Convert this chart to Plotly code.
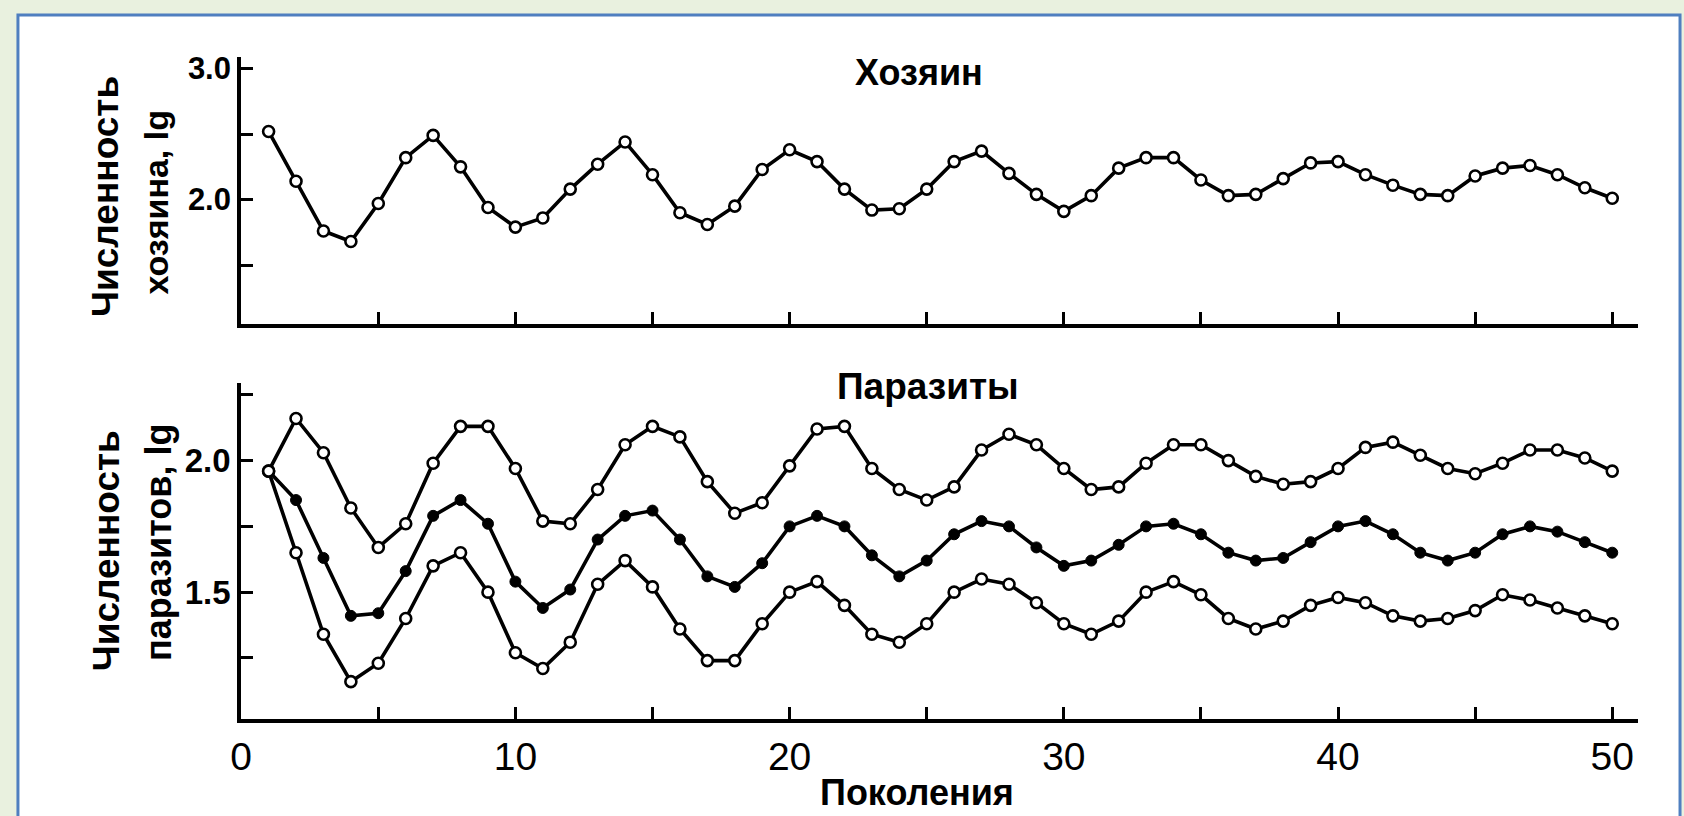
import plotly.graph_objects as go

W, H = 1684, 816

generations = list(range(1, 51))

host = [2.52, 2.14, 1.76, 1.68, 1.97, 2.32, 2.49, 2.25, 1.94, 1.79,
        1.86, 2.08, 2.27, 2.44, 2.19, 1.90, 1.81, 1.95, 2.23, 2.38,
        2.29, 2.08, 1.92, 1.93, 2.08, 2.29, 2.37, 2.20, 2.04, 1.91,
        2.03, 2.24, 2.32, 2.32, 2.15, 2.03, 2.04, 2.16, 2.28, 2.29,
        2.19, 2.11, 2.04, 2.03, 2.18, 2.24, 2.26, 2.19, 2.09, 2.01]

parasite_upper = [1.96, 2.16, 2.03, 1.82, 1.67, 1.76, 1.99, 2.13, 2.13, 1.97,
                  1.77, 1.76, 1.89, 2.06, 2.13, 2.09, 1.92, 1.80, 1.84, 1.98,
                  2.12, 2.13, 1.97, 1.89, 1.85, 1.90, 2.04, 2.10, 2.06, 1.97,
                  1.89, 1.90, 1.99, 2.06, 2.06, 2.00, 1.94, 1.91, 1.92, 1.97,
                  2.05, 2.07, 2.02, 1.97, 1.95, 1.99, 2.04, 2.04, 2.01, 1.96]

parasite_mid = [1.96, 1.85, 1.63, 1.41, 1.42, 1.58, 1.79, 1.85, 1.76, 1.54,
                1.44, 1.51, 1.70, 1.79, 1.81, 1.70, 1.56, 1.52, 1.61, 1.75,
                1.79, 1.75, 1.64, 1.56, 1.62, 1.72, 1.77, 1.75, 1.67, 1.60,
                1.62, 1.68, 1.75, 1.76, 1.72, 1.65, 1.62, 1.63, 1.69, 1.75,
                1.77, 1.72, 1.65, 1.62, 1.65, 1.72, 1.75, 1.73, 1.69, 1.65]

parasite_lower = [1.96, 1.65, 1.34, 1.16, 1.23, 1.40, 1.60, 1.65, 1.50, 1.27,
                  1.21, 1.31, 1.53, 1.62, 1.52, 1.36, 1.24, 1.24, 1.38, 1.50,
                  1.54, 1.45, 1.34, 1.31, 1.38, 1.50, 1.55, 1.53, 1.46, 1.38,
                  1.34, 1.39, 1.50, 1.54, 1.49, 1.40, 1.36, 1.39, 1.45, 1.48,
                  1.46, 1.41, 1.39, 1.40, 1.43, 1.49, 1.47, 1.44, 1.41, 1.38]

x_tickvals = [0, 5, 10, 15, 20, 25, 30, 35, 40, 45, 50]
x_ticktext = ["0", "", "10", "", "20", "", "30", "", "40", "", "50"]
host_tickvals = [1.5, 2.0, 2.5, 3.0]
host_ticktext = ["", "2.0", "", "3.0"]
par_tickvals = [1.25, 1.5, 1.75, 2.0, 2.25]
par_ticktext = ["", "1.5", "", "2.0", ""]

FONT = "Liberation Sans, Arial, sans-serif"
BG = "#E9F1DF"


def px(x):
    return x / W


def py(y):
    return 1 - y / H


fig = go.Figure()

open_marker = dict(symbol="circle", size=11, color="white",
                   line=dict(color="black", width=2.6))
filled_marker = dict(symbol="circle", size=11, color="black",
                     line=dict(color="black", width=1))
line_style = dict(color="black", width=3.6)

fig.add_trace(go.Scatter(x=generations, y=host, mode="lines+markers",
                         line=line_style, marker=open_marker,
                         xaxis="x", yaxis="y", showlegend=False))
for series, mk in [(parasite_upper, open_marker), (parasite_mid, filled_marker),
                   (parasite_lower, open_marker)]:
    fig.add_trace(go.Scatter(x=generations, y=series, mode="lines+markers",
                             line=line_style, marker=mk,
                             xaxis="x2", yaxis="y2", showlegend=False))

x_dom = [px(231.7), px(1638)]
x_rng = [0, 50.95]
common_axis = dict(showline=True, linewidth=4, linecolor="black",
                   ticks="inside", ticklen=12, tickwidth=3, tickcolor="black",
                   showgrid=False, zeroline=False)

fig.update_layout(
    width=W, height=H,
    margin=dict(l=0, r=0, t=0, b=0),
    paper_bgcolor=BG,
    plot_bgcolor="rgba(0,0,0,0)",
    xaxis=dict(domain=x_dom, range=x_rng, anchor="y",
               tickvals=x_tickvals[1:], showticklabels=False, **common_axis),
    yaxis=dict(domain=[py(320), py(51.7)], range=[1.053, 3.086], anchor="x",
               tickvals=host_tickvals, ticktext=host_ticktext,
               tickfont=dict(family=FONT, size=31, color="black", weight="bold"),
               **common_axis),
    xaxis2=dict(domain=x_dom, range=x_rng, anchor="y2",
                tickvals=x_tickvals, ticktext=x_ticktext,
                tickfont=dict(family=FONT, size=39, color="black"),
                **common_axis),
    yaxis2=dict(domain=[py(718.3), py(380)], range=[1.018, 2.294], anchor="x2",
                tickvals=par_tickvals, ticktext=par_ticktext,
                tickfont=dict(family=FONT, size=33, color="black", weight="bold"),
                **common_axis),
    shapes=[dict(type="rect", xref="paper", yref="paper",
                 x0=px(7), x1=px(1680), y0=py(840), y1=py(9),
                 line=dict(color="#4F7FC0", width=3), fillcolor="white",
                 layer="below")],
)

ann = []


def add_text(text, x, y, size, angle=0):
    ann.append(dict(text=text, x=px(x), y=py(y), xref="paper", yref="paper",
                    showarrow=False, xanchor="center", yanchor="middle",
                    textangle=angle,
                    font=dict(family=FONT, size=size, color="black", weight="bold")))


add_text("Хозяин", 914, 67, 36)
add_text("Паразиты", 923, 383, 37)
add_text("Поколения", 912, 792, 36)
add_text("Численность", 95, 192, 37, -90)
add_text("хозяина, lg", 145, 198, 34, -90)
add_text("Численность", 97, 549, 37, -90)
add_text("паразитов, lg", 148, 540, 36, -90)

fig.update_layout(annotations=ann)

post_js = (
    "document.documentElement.style.margin='0';"
    "document.documentElement.style.padding='0';"
    "document.documentElement.style.overflow='hidden';"
    "document.body.style.margin='0';"
    "document.body.style.padding='0';"
    "document.body.style.overflow='hidden';"
    "document.body.style.background='" + BG + "';"
)

fig.write_html("out.html", post_script=post_js,
               config={"displayModeBar": False})
